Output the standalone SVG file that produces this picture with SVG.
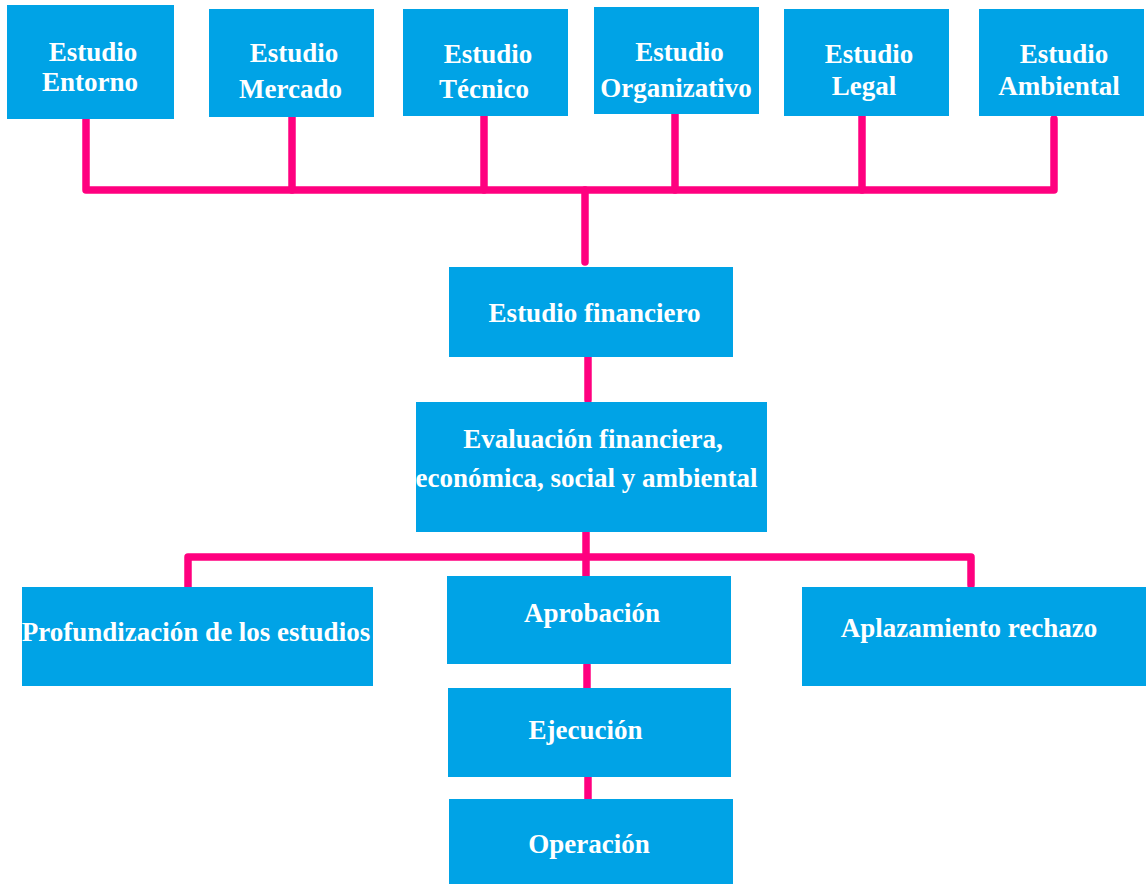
<svg xmlns="http://www.w3.org/2000/svg" width="1146" height="884" viewBox="0 0 1146 884">
<style>
.box{fill:#00A3E6}
.t{font-family:"Liberation Serif","Times New Roman",serif;font-weight:bold;font-size:27px;fill:#ffffff;text-anchor:middle}
.c{stroke:#FF007F;stroke-width:7.5;fill:none;stroke-linecap:round;stroke-linejoin:round}
</style>
<rect width="1146" height="884" fill="#ffffff"/>
<g id="connectors">
<path class="c" d="M86 119V190H1054V119"/>
<path class="c" d="M292 117V190"/>
<path class="c" d="M484 116V190"/>
<path class="c" d="M675 114V190"/>
<path class="c" d="M862 116V190"/>
<path class="c" d="M585 190V262"/>
<path class="c" d="M588 357V400"/>
<path class="c" d="M586 532V576"/>
<path class="c" d="M188 590V557H971V585"/>
<path class="c" d="M587 665V689"/>
<path class="c" d="M588 777V799"/>
</g>
<g id="n-entorno"><rect class="box" x="7" y="5" width="167" height="114"/><text class="t" x="93" y="61">Estudio</text><text class="t" x="90" y="91">Entorno</text></g>
<g id="n-mercado"><rect class="box" x="209" y="9" width="165" height="108"/><text class="t" x="294" y="62">Estudio</text><text class="t" x="290.5" y="98">Mercado</text></g>
<g id="n-tecnico"><rect class="box" x="403" y="9" width="165" height="107"/><text class="t" x="488" y="63">Estudio</text><text class="t" x="484" y="98">Técnico</text></g>
<g id="n-organizativo"><rect class="box" x="594" y="7" width="165" height="107"/><text class="t" x="679.5" y="61">Estudio</text><text class="t" x="676" y="97">Organizativo</text></g>
<g id="n-legal"><rect class="box" x="784" y="9" width="165" height="107"/><text class="t" x="869" y="63">Estudio</text><text class="t" x="864" y="95">Legal</text></g>
<g id="n-ambiental"><rect class="box" x="979" y="9" width="165" height="107"/><text class="t" x="1064" y="63">Estudio</text><text class="t" x="1059" y="95">Ambiental</text></g>
<g id="n-financiero"><rect class="box" x="449" y="267" width="284" height="90"/><text class="t" x="594.5" y="322">Estudio financiero</text></g>
<g id="n-evaluacion"><rect class="box" x="416" y="402" width="351" height="130"/><text class="t" x="593" y="448">Evaluación financiera,</text><text class="t" x="586.5" y="487">económica, social y ambiental</text></g>
<g id="n-profundizacion"><rect class="box" x="22" y="587" width="351" height="99"/><text class="t" x="196" y="641">Profundización de los estudios</text></g>
<g id="n-aprobacion"><rect class="box" x="447" y="576" width="284" height="88"/><text class="t" x="592" y="622">Aprobación</text></g>
<g id="n-aplazamiento"><rect class="box" x="802" y="587" width="344" height="99"/><text class="t" x="969" y="637">Aplazamiento rechazo</text></g>
<g id="n-ejecucion"><rect class="box" x="448" y="688" width="283" height="89"/><text class="t" x="585.5" y="739">Ejecución</text></g>
<g id="n-operacion"><rect class="box" x="449" y="799" width="284" height="85"/><text class="t" x="589" y="853">Operación</text></g>
</svg>
